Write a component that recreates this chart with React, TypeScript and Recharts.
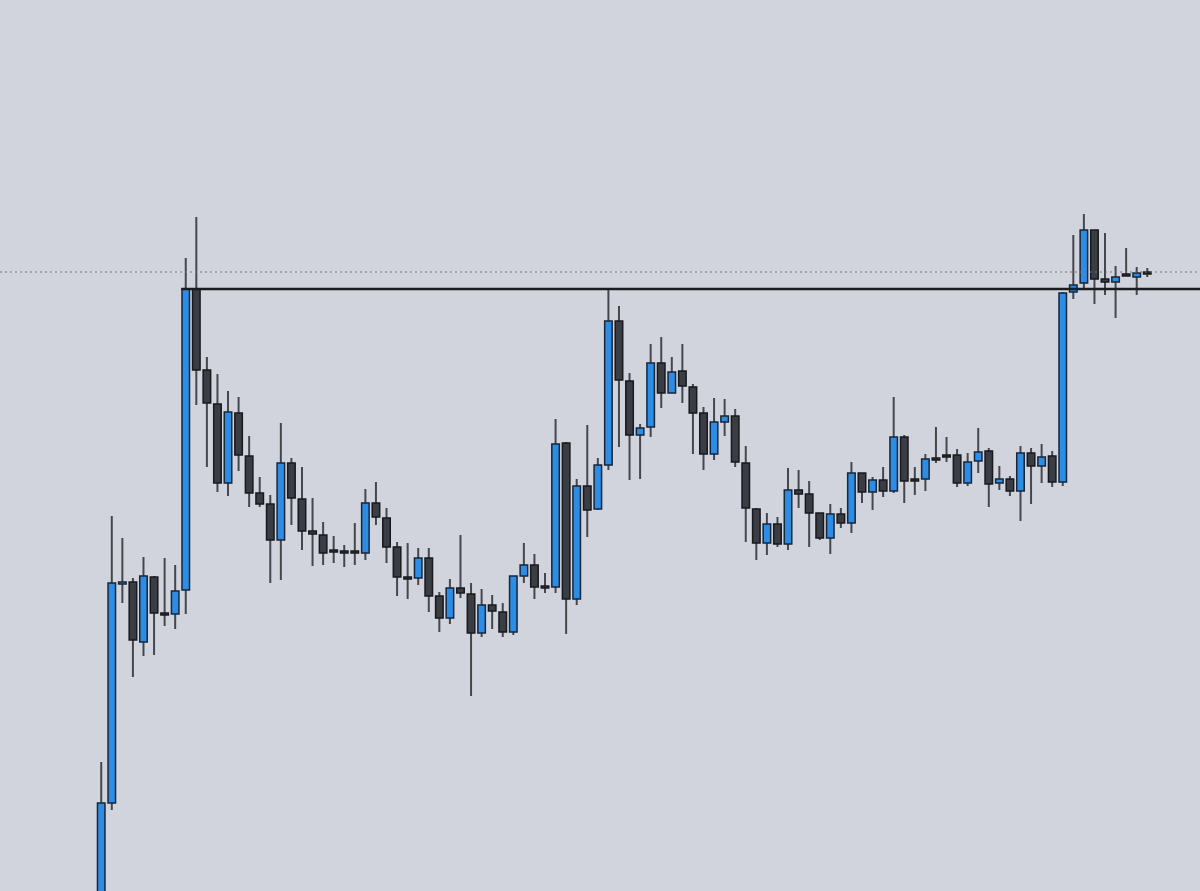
import { ComposedChart, Bar, XAxis, YAxis, ReferenceLine } from 'recharts';

// price levels (candle 1 opens below the visible range)
const opens = [
  -60, 97, 317, 318, 258, 323, 287, 286, 310, 611,
  530, 496, 417, 487, 444, 407, 396, 360, 437, 401,
  369, 365, 350, 349, 349, 347, 397, 382, 353, 323,
  322, 342, 304, 282, 312, 306, 267, 295, 288, 268,
  324, 335, 314, 313, 457, 301, 414, 391, 435, 579,
  519, 465, 473, 537, 507, 529, 513, 487, 446, 478,
  484, 437, 391, 357, 376, 356, 410, 406, 387, 362,
  386, 377, 427, 408, 420, 409, 463, 421, 421, 442,
  445, 445, 417, 439, 449, 417, 421, 409, 447, 434,
  444, 418, 608, 617, 670, 621, 618, 626, 623, 628,
];
const highs = [
  138, 384, 362, 322, 343, 324, 342, 335, 642, 683,
  543, 526, 509, 503, 464, 423, 405, 477, 442, 433,
  402, 378, 364, 355, 377, 411, 418, 392, 358, 357,
  352, 352, 308, 321, 365, 317, 311, 305, 297, 324,
  357, 346, 327, 481, 458, 421, 475, 442, 610, 594,
  527, 476, 556, 563, 543, 556, 516, 493, 502, 501,
  491, 454, 392, 387, 383, 432, 430, 419, 387, 396,
  392, 438, 427, 423, 433, 503, 465, 433, 446, 473,
  463, 451, 447, 472, 452, 434, 424, 454, 452, 456,
  449, 608, 665, 686, 670, 667, 634, 652, 633, 632,
];
const lows = [
  -70, 90, 297, 223, 244, 245, 274, 271, 286, 495,
  433, 408, 404, 429, 393, 393, 317, 320, 375, 350,
  334, 335, 337, 333, 335, 340, 375, 337, 304, 301,
  315, 288, 268, 276, 302, 204, 263, 271, 263, 265,
  317, 301, 307, 307, 266, 295, 363, 390, 430, 453,
  420, 421, 463, 492, 507, 497, 446, 430, 440, 464,
  433, 358, 340, 345, 353, 350, 392, 353, 360, 346,
  372, 367, 397, 390, 403, 407, 397, 405, 409, 437,
  438, 413, 414, 427, 393, 410, 404, 379, 396, 417,
  413, 414, 601, 612, 596, 605, 582, 624, 605, 623,
];
const closes = [
  97, 317, 318, 260, 324, 287, 287, 309, 611, 530,
  497, 417, 488, 445, 407, 396, 360, 437, 402, 369,
  366, 347, 348, 349, 349, 397, 383, 353, 323, 323,
  342, 304, 282, 312, 307, 267, 295, 289, 268, 324,
  335, 313, 314, 456, 301, 414, 390, 435, 579, 520,
  465, 472, 537, 507, 528, 514, 487, 446, 478, 484,
  438, 392, 357, 376, 356, 410, 406, 387, 362, 386,
  377, 427, 408, 420, 409, 463, 419, 421, 441, 442,
  443, 417, 438, 448, 416, 421, 409, 447, 434, 443,
  418, 607, 615, 670, 621, 618, 623, 626, 627, 628,
];

const resistance = 611;
const lastPrice = 628;

const data = opens.map((open, i) => ({
  i,
  open,
  high: highs[i],
  low: lows[i],
  close: closes[i],
  range: [lows[i], highs[i]],
}));

const BG = '#d1d4dc';
const UP = '#2d8ce4';
const UP_EDGE = '#17263a';
const DOWN = '#3b3d45';
const DOWN_EDGE = '#18191d';
const WICK = '#45474d';

function Candle(props: any) {
  const { x, y, width, height, payload } = props;
  const top = Math.min(y, y + height);
  const bottom = Math.max(y, y + height);
  const { open, close, high, low } = payload;
  const span = high - low;
  const toY = (v: number) => (span === 0 ? top : top + ((high - v) / span) * (bottom - top));
  const cx = x + width / 2;
  const up = close > open;
  const bodyTop = toY(Math.max(open, close));
  const bodyBottom = toY(Math.min(open, close));
  const bodyH = Math.max(bodyBottom - bodyTop, 2);
  return (
    <g>
      <line x1={cx} x2={cx} y1={top} y2={bottom} stroke={WICK} strokeWidth={2} />
      <rect
        x={x + 0.75}
        y={bodyTop}
        width={width - 1.5}
        height={bodyH}
        fill={up ? UP : DOWN}
        stroke={up ? UP_EDGE : DOWN_EDGE}
        strokeWidth={1.5}
      />
    </g>
  );
}

export default function App() {
  return (
    <div style={{ position: 'absolute', left: 0, top: 0, width: 1200, height: 891, background: BG }}>
      <ComposedChart width={1200} height={891} data={data} margin={{ top: 0, right: 0, bottom: 0, left: 0 }}>
        <XAxis dataKey="i" type="number" domain={[-9.559, 104.01]} allowDataOverflow hide />
        <YAxis domain={[9, 900]} allowDataOverflow hide />
        <ReferenceLine y={lastPrice} stroke="#6f727b" strokeWidth={1} strokeDasharray="2 3" />
        <ReferenceLine
          segment={[{ x: 7.6, y: resistance }, { x: 104.01, y: resistance }]}
          stroke="#1b1c20"
          strokeWidth={2.5}
        />
        <Bar dataKey="range" barSize={9} shape={Candle} isAnimationActive={false} />
      </ComposedChart>
    </div>
  );
}
